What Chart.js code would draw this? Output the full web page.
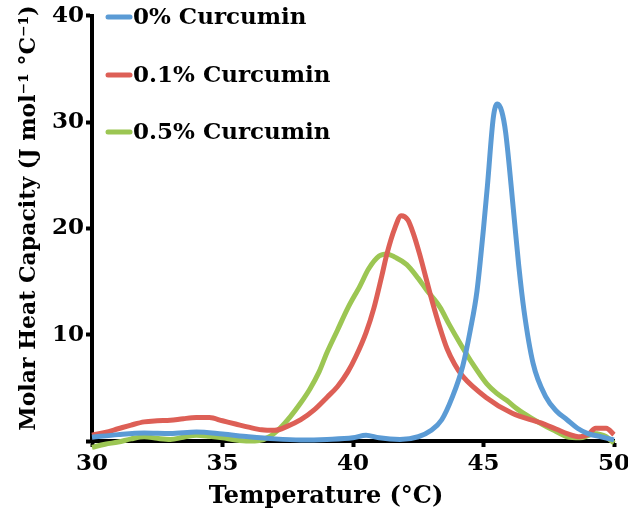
<!DOCTYPE html>
<html>
<head>
<meta charset="utf-8">
<script src="https://cdn.jsdelivr.net/npm/chart.js@4"></script>
<style>
  body { margin: 0; background: #fff; }
  #wrap { width: 628px; height: 523px; }
</style>
</head>
<body>
<div id="wrap"><canvas id="canvas"></canvas></div>
<script>
// series labels
var seriesNames = ['0% Curcumin', '0.1% Curcumin', '0.5% Curcumin'];
var xTitle = 'Temperature (°C)';
var yTitle = 'Molar Heat Capacity (J mol\u207B\u00B9 \u00B0C\u207B\u00B9)';

// 0% curcumin (blue)
var tempA = [30, 31, 32, 33, 34, 35, 36, 37, 38, 39, 40, 40.5, 41, 41.8, 42.5, 43, 43.4, 43.8, 44.2, 44.5, 44.75, 45, 45.15, 45.38, 45.53, 45.7, 45.85, 46.14, 46.35, 46.55, 46.9, 47.4, 47.8, 48.2, 48.6, 49, 49.5, 50];
var cpA = [0.35, 0.6, 0.75, 0.7, 0.85, 0.65, 0.4, 0.2, 0.1, 0.15, 0.3, 0.55, 0.3, 0.15, 0.4, 1.0, 2.0, 4.1, 7.0, 10.5, 14.1, 20, 24, 30.5, 31.7, 31.0, 29, 21.9, 16.5, 12.3, 7.3, 4.1, 2.8, 2.0, 1.2, 0.7, 0.4, 0.1];

// 0.1% curcumin (red)
var tempB = [30, 30.5, 31, 31.5, 32, 32.5, 33, 33.5, 34, 34.5, 35, 35.5, 36, 36.5, 37, 37.5, 38, 38.5, 39, 39.4, 39.8, 40.1, 40.5, 40.8, 41.1, 41.3, 41.6, 41.85, 42.1, 42.3, 42.55, 42.8, 43.05, 43.3, 43.6, 43.9, 44.2, 45.1, 46.1, 47.2, 47.8, 48.2, 48.7, 49.0, 49.3, 49.7, 50];
var cpB = [0.55, 0.8, 1.15, 1.5, 1.8, 1.9, 1.95, 2.1, 2.2, 2.2, 1.9, 1.6, 1.3, 1.05, 1.0, 1.4, 2.0, 2.9, 4.1, 5.1, 6.5, 7.9, 10.2, 12.5, 15.5, 17.6, 20.0, 21.2, 20.8, 19.6, 17.6, 15.3, 13.0, 10.9, 8.7, 7.2, 6.1, 4.1, 2.6, 1.7, 1.1, 0.7, 0.4, 0.6, 1.2, 1.2, 0.6];

// 0.5% curcumin (green)
var tempC = [30, 30.5, 31, 31.5, 32, 32.5, 33, 33.5, 34, 34.5, 35, 35.5, 36, 36.4, 36.8, 37.2, 37.6, 38, 38.35, 38.7, 39, 39.4, 39.8, 40.27, 40.6, 41, 41.3, 41.6, 42.06, 42.5, 42.82, 43.33, 43.7, 44.1, 44.6, 45.12, 45.5, 45.9, 46.3, 46.8, 47.3, 47.7, 48.2, 48.7, 49, 49.2, 49.5, 49.7, 50];
var cpC = [-0.6, -0.3, -0.1, 0.2, 0.4, 0.25, 0.15, 0.35, 0.55, 0.45, 0.3, 0.1, 0.0, 0.05, 0.4, 1.2, 2.3, 3.6, 4.9, 6.5, 8.3, 10.4, 12.5, 14.6, 16.2, 17.4, 17.6, 17.3, 16.6, 15.3, 14.2, 12.6, 10.9, 9.2, 7.2, 5.4, 4.5, 3.8, 3.0, 2.2, 1.5, 1.0, 0.4, 0.3, 0.5, 0.7, 0.6, 0.4, -0.2];

var xTicks = [30, 35, 40, 45, 50];
var yTicks = [0, 10, 20, 30, 40];

var colors = ['#5b9bd5', '#dd5f56', '#9cc653'];
var serif = '"DejaVu Serif", serif';

function toPoints(xs, ys) {
    return xs.map(function(x, i) { return { x: x, y: ys[i] }; });
}

function makeSet(i, xs, ys) {
    return {
        label: seriesNames[i],
        data: toPoints(xs, ys),
        borderColor: colors[i],
        backgroundColor: colors[i],
        borderWidth: 5,
        pointRadius: 0,
        cubicInterpolationMode: 'monotone',
        clip: false
    };
}

// legend inside the plot (top left) and the two axis titles
var extras = {
    id: 'extras',
    afterDraw: function(chart) {
        var ctx = chart.ctx;
        var rows = [17, 75, 132];
        ctx.save();
        ctx.font = 'bold 23px ' + serif;
        ctx.textBaseline = 'middle';
        ctx.fillStyle = '#000';
        chart.data.datasets.forEach(function(ds, i) {
            ctx.strokeStyle = ds.borderColor;
            ctx.lineWidth = 5;
            ctx.lineCap = 'round';
            ctx.beginPath();
            ctx.moveTo(108, rows[i]);
            ctx.lineTo(130, rows[i]);
            ctx.stroke();
            ctx.fillText(ds.label, 133, rows[i] + 1);
        });

        ctx.textAlign = 'center';
        ctx.font = 'bold 24px ' + serif;
        ctx.fillText(xTitle, 326, 497);

        ctx.font = 'bold 22px ' + serif;
        ctx.translate(29, 218);
        ctx.rotate(-Math.PI / 2);
        ctx.fillText(yTitle, 0, 0);
        ctx.restore();
    }
};

var ctx = document.getElementById('canvas').getContext('2d');
var config = {
    type: 'line',
    data: {
        datasets: [makeSet(0, tempA, cpA), makeSet(1, tempB, cpB), makeSet(2, tempC, cpC)]
    },
    plugins: [extras],
    options: {
        responsive: true,
        maintainAspectRatio: false,
        animation: false,
        layout: { padding: { left: 0, right: 0, top: 13, bottom: 0 } },
        plugins: { legend: { display: false }, tooltip: { enabled: false } },
        scales: {
            x: {
                type: 'linear',
                min: 30,
                max: 50,
                afterBuildTicks: function(s) { s.ticks = xTicks.map(function(v) { return { value: v }; }); },
                afterFit: function(s) { s.height = 82; s.paddingRight = 14; s.paddingLeft = 0; },
                ticks: { color: '#000', font: { family: serif, weight: 'bold', size: 23 }, padding: 3 },
                grid: { drawOnChartArea: false, color: '#000', tickLength: 6, tickWidth: 4 },
                border: { color: '#000', width: 4 }
            },
            y: {
                min: 0,
                max: 40,
                afterBuildTicks: function(s) { s.ticks = yTicks.map(function(v) { return { value: v }; }); },
                afterFit: function(s) { s.width = 92; },
                ticks: {
                    color: '#000',
                    font: { family: serif, weight: 'bold', size: 23 },
                    padding: 2,
                    callback: function(v) { return v === 0 ? '' : v; }
                },
                grid: { drawOnChartArea: false, color: '#000', tickLength: 6, tickWidth: 4 },
                border: { color: '#000', width: 4 }
            }
        }
    }
};

var chart = new Chart(ctx, config);
</script>
</body>
</html>
